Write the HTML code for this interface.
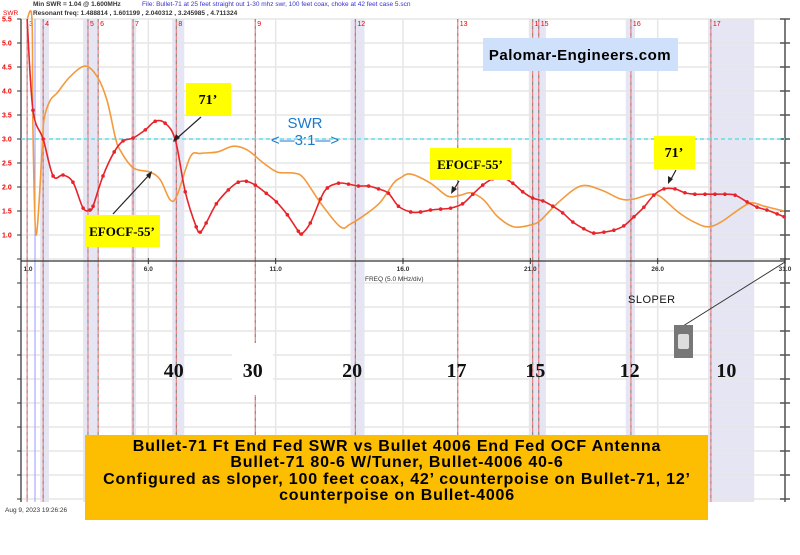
<!DOCTYPE html>
<html><head><meta charset="utf-8"><style>
html,body{margin:0;padding:0;background:#fff;}
svg{display:block;font-family:"Liberation Sans",sans-serif;}
</style></head><body>
<svg id="chart" width="800" height="555" viewBox="0 0 800 555" xmlns="http://www.w3.org/2000/svg">
<rect width="800" height="555" fill="#fff"/>
<g id="bands"></g>
<g id="grid"></g>
<g id="markers"></g>
<g id="axes"></g>
<line x1="21" x2="785" y1="139" y2="139" stroke="#5fe0e8" stroke-width="1.5" stroke-dasharray="4,3"/>
<g id="series"></g>
<text x="33" y="6" font-size="6.5" font-weight="bold" fill="#333">Min SWR =   1.04 @  1.600MHz</text>
<text x="142" y="6" font-size="6.5" fill="#3333cc">File: Bullet-71 at 25 feet straight out 1-30 mhz swr, 100 feet coax, choke at 42 feet case 5.scn</text>
<text x="33" y="15" font-size="6.5" font-weight="bold" fill="#333">Resonant freq:  1.488814 , 1.601199 , 2.040312 , 3.245985 , 4.711324</text>
<text x="3" y="15" font-size="6.5" fill="#e00">SWR</text>
<rect x="483" y="38" width="195" height="33" fill="#cfe0fb"/>
<text x="580" y="60" font-size="15" font-weight="bold" text-anchor="middle" fill="#000" letter-spacing="0.5">Palomar-Engineers.com</text>
<text x="305" y="128" font-size="15" fill="#1a7acc" text-anchor="middle">SWR</text>
<text x="305" y="145" font-size="15" fill="#1a7acc" text-anchor="middle">&lt;—3:1—&gt;</text>
<g>
<rect x="186" y="83" width="45" height="33" fill="#ffff00"/>
<text x="208" y="104" font-size="14" font-weight="bold" font-family="Liberation Serif,serif" text-anchor="middle">71’</text>
<line x1="201" y1="117" x2="175" y2="140" stroke="#222" stroke-width="1.2"/>
<path d="M173,142 L176,134 L180,138 Z" fill="#222"/>
</g>
<g>
<rect x="85" y="215" width="75" height="32" fill="#ffff00"/>
<text x="122" y="236" font-size="13" font-weight="bold" font-family="Liberation Serif,serif" text-anchor="middle">EFOCF-55’</text>
<line x1="113" y1="214" x2="150" y2="174" stroke="#222" stroke-width="1.2"/>
<path d="M152,171 L150,179 L146,175 Z" fill="#222"/>
</g>
<g>
<rect x="430" y="148" width="81" height="32" fill="#ffff00"/>
<text x="470" y="169" font-size="13" font-weight="bold" font-family="Liberation Serif,serif" text-anchor="middle">EFOCF-55’</text>
<line x1="459" y1="181" x2="453" y2="191" stroke="#222" stroke-width="1.2"/>
<path d="M451,194 L452,186 L457,189 Z" fill="#222"/>
</g>
<g>
<rect x="654" y="136" width="41" height="33" fill="#ffff00"/>
<text x="674" y="157" font-size="14" font-weight="bold" font-family="Liberation Serif,serif" text-anchor="middle">71’</text>
<line x1="676" y1="170" x2="670" y2="181" stroke="#222" stroke-width="1.2"/>
<path d="M668,184 L668,176 L673,179 Z" fill="#222"/>
</g>
<text x="628" y="303" font-size="11" fill="#111" letter-spacing="0.5">SLOPER</text>
<line x1="683" y1="326" x2="785" y2="262" stroke="#333" stroke-width="1"/>
<rect x="674" y="325" width="19" height="33" fill="#777"/>
<rect x="678" y="334" width="11" height="15" fill="#ddd" rx="2"/>
<g id="bandlabels" font-family="Liberation Serif,serif" font-weight="bold" font-size="20" fill="#111" text-anchor="middle"></g>
<rect x="85" y="435" width="623" height="85" fill="#fdbd00"/>
<g font-size="16" font-weight="bold" text-anchor="middle" fill="#000" letter-spacing="0.8">
<text x="397" y="451">Bullet-71 Ft End Fed SWR vs Bullet 4006 End Fed OCF Antenna</text>
<text x="397" y="467">Bullet-71 80-6 W/Tuner, Bullet-4006 40-6</text>
<text x="397" y="484">Configured as sloper, 100 feet coax, 42’ counterpoise on Bullet-71, 12’</text>
<text x="397" y="500">counterpoise on Bullet-4006</text>
</g>
<text x="5" y="512" font-size="6.5" fill="#333">Aug 9, 2023  19:26:26</text>
</svg>
<script>
const xTicks = [1, 6, 11, 16, 21, 26, 31];
const xTickLabels = ["1.0", "6.0", "11.0", "16.0", "21.0", "26.0", "31.0"];
const yTicks = [5.5, 5.0, 4.5, 4.0, 3.5, 3.0, 2.5, 2.0, 1.5, 1.0];
const yTickLabels = ["5.5", "5.0", "4.5", "4.0", "3.5", "3.0", "2.5", "2.0", "1.5", "1.0"];
const bullet71Freq = [1.24,1.47,1.87,2.26,2.65,3.04,3.44,3.71,3.83,4.22,4.66,5.01,5.40,5.88,6.27,6.66,7.06,7.45,7.88,8.04,8.27,8.67,9.14,9.53,9.85,10.20,10.63,11.03,11.46,11.89,12.01,12.36,12.76,13.03,13.47,13.86,14.25,14.65,15.04,15.43,15.82,16.30,16.69,17.08,17.48,17.87,18.34,18.74,19.13,19.52,19.91,20.31,20.70,21.09,21.49,21.88,22.27,22.67,23.10,23.49,23.89,24.28,24.67,25.07,25.46,25.85,26.25,26.68,27.07,27.46,27.86,28.25,28.64,29.04,29.51,29.90,30.29,30.69,30.96];
const bullet71Swr = [5.5,3.6,3.0,2.23,2.25,2.1,1.56,1.52,1.6,2.23,2.73,2.96,3.02,3.19,3.37,3.33,2.98,1.9,1.17,1.06,1.25,1.65,1.94,2.1,2.12,2.04,1.87,1.69,1.42,1.08,1.02,1.25,1.75,1.98,2.08,2.06,2.02,2.02,1.96,1.87,1.6,1.48,1.48,1.52,1.54,1.56,1.65,1.85,2.04,2.17,2.19,2.08,1.9,1.77,1.71,1.6,1.46,1.27,1.13,1.04,1.06,1.1,1.19,1.38,1.58,1.83,1.96,1.96,1.88,1.85,1.85,1.85,1.85,1.83,1.69,1.58,1.52,1.44,1.38];
const efocfFreq = [1.24,1.43,1.47,1.59,1.83,1.90,2.14,2.42,2.93,3.52,3.99,4.38,4.70,4.89,5.40,6.07,6.47,6.86,7.13,7.65,8.04,8.71,9.34,9.89,10.52,11.07,11.70,12.09,12.76,13.54,13.94,14.61,15.12,15.63,15.90,16.30,17.08,17.75,18.26,18.66,19.17,19.72,20.35,21.02,21.41,22.08,22.98,23.77,24.55,25.07,25.73,26.13,26.80,27.43,27.98,28.49,29.16,29.67,30.18,30.96];
const efocfSwr = [5.5,5.5,3.19,1.0,2.77,3.4,3.8,3.96,4.3,4.52,4.3,3.8,3.04,2.77,2.4,2.31,2.15,1.73,1.83,2.63,2.7,2.73,2.85,2.77,2.5,2.31,2.29,2.19,1.67,1.17,1.23,1.46,1.69,2.08,2.19,2.27,2.08,1.81,1.83,1.88,1.73,1.38,1.17,1.21,1.31,1.67,2.02,1.94,1.75,1.75,1.85,1.79,1.48,1.27,1.17,1.27,1.52,1.67,1.6,1.5];
const markerFreq = [1.24,1.87,3.63,4.03,5.40,7.10,10.2,14.13,18.15,21.09,21.33,24.95,28.09];
const markerLabels = ["3","4","5","6","7","8","9","12","13","1","15","16","17"];
const bandStart = [1.75,3.44,5.32,6.94,13.94,20.94,24.75,27.98];
const bandEnd = [2.10,4.0,5.52,7.41,14.49,21.61,25.11,29.79];
const bandNames = ["40","30","20","17","15","12","10"];
const bandNameFreq = [7.0,10.1,14.0,18.1,21.2,24.9,28.7];

const NS = "http://www.w3.org/2000/svg";
const X0 = 21, X1 = 785, Y0 = 19, YB = 502;
function xs(f){ return X0 + (f - 1) * (X1 - X0) / 30; }
function ys(v){ return 139 - (v - 3) * 48; }
function mk(tag, attrs, parent){
  const e = document.createElementNS(NS, tag);
  for (const k in attrs) e.setAttribute(k, attrs[k]);
  parent.appendChild(e); return e;
}
const gBands = document.getElementById('bands');
for (let i = 0; i < bandStart.length; i++){
  const r = mk('rect', {x: xs(bandStart[i]), y: Y0, width: xs(bandEnd[i]) - xs(bandStart[i]), height: YB - Y0, fill: '#e5e5f3'}, gBands);
  
  
}
const gGrid = document.getElementById('grid');
for (let y = Y0; y <= YB; y += 24){
  const l = mk('line', {x1: X0, x2: X1, y1: y, y2: y, stroke: '#e6e6e6', 'stroke-width': 1.5}, gGrid);
  
  
}
xTicks.forEach(f => {
  const l = mk('line', {x1: xs(f), x2: xs(f), y1: Y0, y2: YB, stroke: '#e6e6e6', 'stroke-width': 1.5}, gGrid);
  
  
});
const gMk = document.getElementById('markers');
markerFreq.forEach((f, i) => {
  const x = xs(f);
  const l = mk('line', {x1: x, x2: x, y1: Y0, y2: YB, stroke: '#f08080', 'stroke-width': 1.2}, gMk);
  
  
  mk('line', {x1: x, x2: x, y1: Y0, y2: YB, stroke: '#888', 'stroke-width': 1, 'stroke-dasharray': '3,4'}, gMk);
  const t = mk('text', {x: x + 2, y: 26, 'font-size': 7, fill: '#e00'}, gMk);
  t.textContent = markerLabels[i];
  
  
});
mk('line', {x1: 35, x2: 35, y1: Y0, y2: YB, stroke: '#9999ff', 'stroke-width': 1}, gMk);
const gAx = document.getElementById('axes');
mk('line', {x1: X0, x2: X0, y1: Y0, y2: YB, stroke: '#333', 'stroke-width': 1.2}, gAx);
mk('line', {x1: X1, x2: X1, y1: Y0, y2: YB, stroke: '#555', 'stroke-width': 1.5}, gAx);
mk('line', {x1: X0, x2: X1, y1: 261, y2: 261, stroke: '#333', 'stroke-width': 1.2}, gAx);
for (let y = Y0; y <= YB; y += 24){
  mk('line', {x1: X0 - 4, x2: X0, y1: y, y2: y, stroke: '#333'}, gAx);
  mk('line', {x1: X1 - 5, x2: X1 + 5, y1: y, y2: y, stroke: '#555', 'stroke-width': 1.5}, gAx);
}
yTicks.forEach((v, i) => {
  const t = mk('text', {x: 2, y: ys(v) + 2.5, 'font-size': 7, 'font-weight': 'bold', fill: '#e00'}, gAx);
  t.textContent = yTickLabels[i];
  
  
});
xTicks.forEach((f, i) => {
  mk('line', {x1: xs(f), x2: xs(f), y1: 258, y2: 264, stroke: '#333'}, gAx);
  const t = mk('text', {x: xs(f) + (i === 0 ? 7 : 0), y: 271, 'font-size': 6.5, 'font-weight': 'bold', 'text-anchor': 'middle', fill: '#333'}, gAx);
  t.textContent = xTickLabels[i];
  
  
});
const xt = mk('text', {x: 365, y: 281, 'font-size': 6.5, fill: '#333'}, gAx);
xt.textContent = 'FREQ (5.0 MHz/div)';



function smooth(fs, vs){
  const p = fs.map((f, i) => [xs(f), ys(vs[i])]);
  let d = 'M' + p[0][0] + ',' + p[0][1];
  for (let i = 0; i < p.length - 1; i++){
    const p0 = p[Math.max(0, i - 1)], p1 = p[i], p2 = p[i + 1], p3 = p[Math.min(p.length - 1, i + 2)];
    const c1 = [p1[0] + (p2[0] - p0[0]) / 6, p1[1] + (p2[1] - p0[1]) / 6];
    const c2 = [p2[0] - (p3[0] - p1[0]) / 6, p2[1] - (p3[1] - p1[1]) / 6];
    d += ' C' + c1[0] + ',' + c1[1] + ' ' + c2[0] + ',' + c2[1] + ' ' + p2[0] + ',' + p2[1];
  }
  return d;
}
const gS = document.getElementById('series');
const po = mk('path', {d: smooth(efocfFreq, efocfSwr), fill: 'none', stroke: '#f39a3c', 'stroke-width': 1.6}, gS);


const pr = mk('path', {d: smooth(bullet71Freq, bullet71Swr), fill: 'none', stroke: '#e8232a', 'stroke-width': 1.6}, gS);


bullet71Freq.forEach((f, i) => {
  if (i < 1) return;
  const c = mk('circle', {cx: xs(f), cy: ys(bullet71Swr[i]), r: 1.8, fill: '#e8232a'}, gS);
  
  
});
const gBL = document.getElementById('bandlabels');
mk('rect', {x: 232, y: 343, width: 41, height: 52, fill: '#fff'}, gBL);
bandNames.forEach((n, i) => {
  const t = mk('text', {x: xs(bandNameFreq[i]), y: 377}, gBL);
  t.textContent = n;
  
  
});
</script>
</body></html>
